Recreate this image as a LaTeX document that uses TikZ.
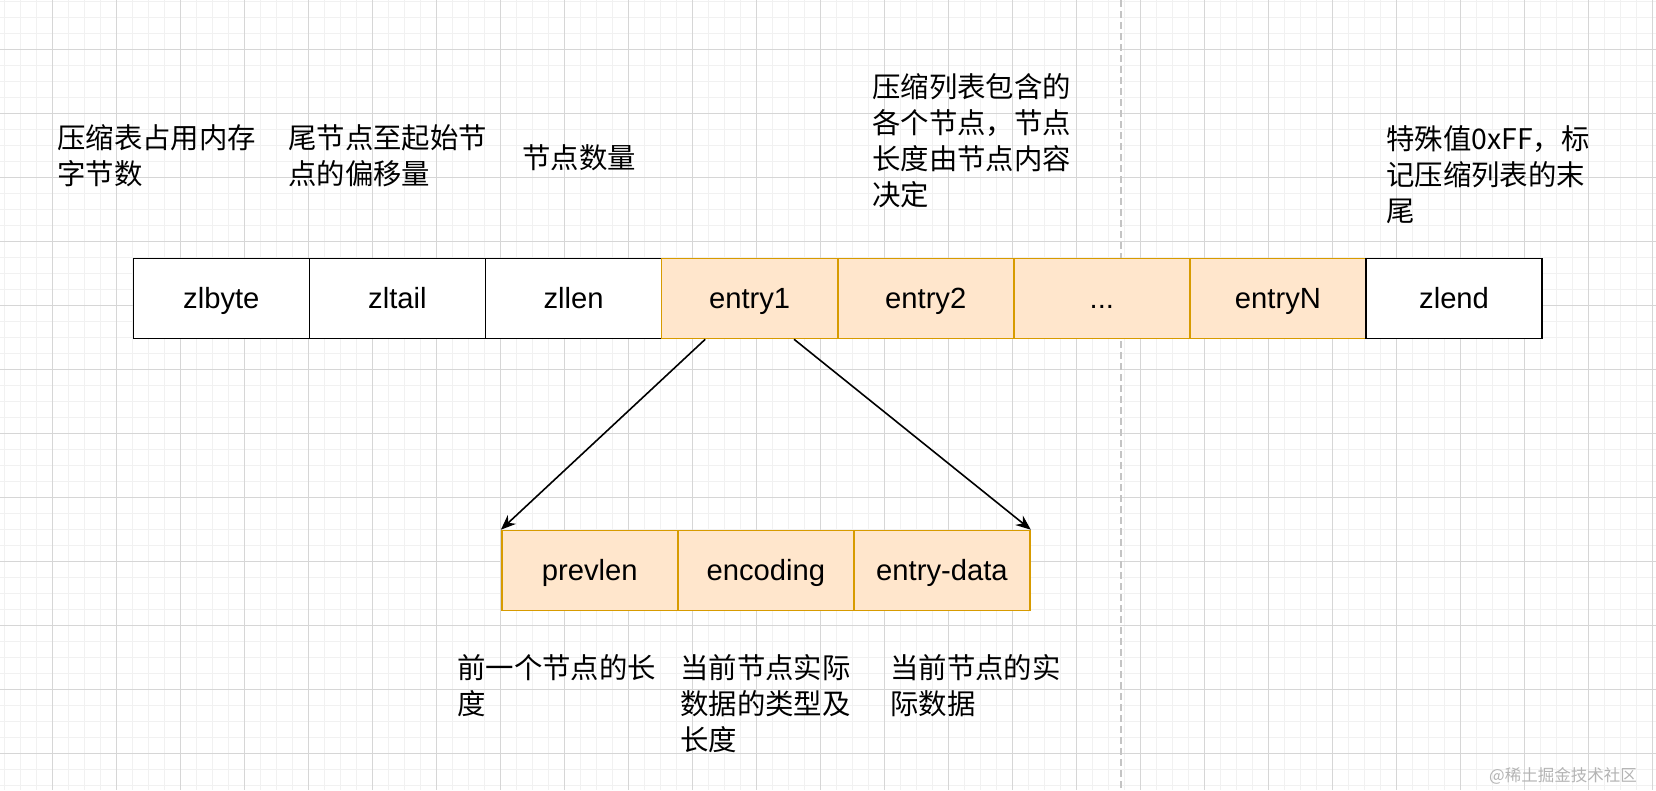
\documentclass[tikz,border=0pt]{standalone}
\usepackage{fontspec}
\setmainfont{Liberation Sans}
\newfontfamily\cjk{Noto Sans CJK SC}
\usetikzlibrary{arrows.meta,calc}
\definecolor{gridminor}{HTML}{F1F1F1}
\definecolor{gridmajor}{HTML}{D6D6D6}
\definecolor{orfill}{HTML}{FFE6CC}
\definecolor{ordraw}{HTML}{D79B00}
\definecolor{dashgray}{HTML}{C4C4C4}
\definecolor{wmgray}{HTML}{B4B4B4}
\tikzset{
  cell/.style={draw=black, fill=white, line width=1.6pt, minimum width=176.1pt, minimum height=80pt,
    inner sep=0pt, font=\fontsize{29.2}{34}\selectfont, text height=20pt, text depth=1pt},
  ocell/.style={cell, draw=ordraw, fill=orfill},
  note/.style={anchor=north west, inner sep=0pt, align=left, font=\cjk\fontsize{28.4}{36}\selectfont},
  link/.style={line width=1.6pt, -{Stealth[length=15pt,width=12pt]}},
}
\begin{document}
\begin{tikzpicture}[x=1pt,y=-1pt]
\useasboundingbox (0,0) rectangle (1656,790);
\fill[white] (0,0) rectangle (1656,790);
% grid
\foreach \i in {0,...,103} \draw[gridminor, line width=1pt] ({4.7+16*\i},0) -- ++(0,790);
\foreach \i in {0,...,49} \draw[gridminor, line width=1pt] (0,{1.7+16*\i}) -- ++(1656,0);
\foreach \i in {0,...,25} \draw[gridmajor, line width=1pt] ({52.7+64*\i},0) -- ++(0,790);
\foreach \i in {0,...,12} \draw[gridmajor, line width=1pt] (0,{49.7+64*\i}) -- ++(1656,0);
% dashed separator
\draw[dashgray, line width=1.6pt, dash pattern=on 7pt off 4pt] (1120.7,0) -- (1120.7,790);
% top row
\node[cell]  (zlbyte) at (221.35,298.5) {zlbyte};
\node[cell]  (zltail) at (397.45,298.5) {zltail};
\node[cell]  (zllen)  at (573.55,298.5) {zllen};
\node[ocell] (entry1) at (749.65,298.5) {entry1};
\node[ocell] (entry2) at (925.75,298.5) {entry2};
\node[ocell] (dots)   at (1101.85,298.5) {...};
\node[ocell] (entryN) at (1277.95,298.5) {entryN};
\node[cell]  (zlend)  at (1454.05,298.5) {zlend};
% bottom row
\node[ocell] (prevlen)  at (589.75,570.5) {prevlen};
\node[ocell] (encoding) at (765.85,570.5) {encoding};
\node[ocell] (edata)    at (941.95,570.5) {entry-data};
% connectors
\coordinate (s1) at ($(entry1.south west)!0.25!(entry1.south east)$);
\coordinate (s2) at ($(entry1.south west)!0.75!(entry1.south east)$);
\draw[link] (s1) -- (prevlen.north west);
\draw[link] (s2) -- (edata.north east);
% notes
\node[note] (n1) at (57,124) {压缩表占用内存\\字节数};
\node[note] (n2) at (288,124) {尾节点至起始节\\点的偏移量};
\node[note] (n3) at (522,144) {节点数量};
\node[note] (n4) at (872,73) {压缩列表包含的\\各个节点，节点\\长度由节点内容\\决定};
\node[note] (n5) at (1386,125) {特殊值0xFF，标\\记压缩列表的末\\尾};
\node[note] (n6) at (457,654) {前一个节点的长\\度};
\node[note] (n7) at (680,654) {当前节点实际\\数据的类型及\\长度};
\node[note] (n8) at (890,654) {当前节点的实\\际数据};
% watermark
\node[anchor=east, inner sep=0pt, text=wmgray, font=\cjk\fontsize{16.5}{18}\selectfont] (wm) at (1637,776) {@稀土掘金技术社区};
\end{tikzpicture}
\end{document}
